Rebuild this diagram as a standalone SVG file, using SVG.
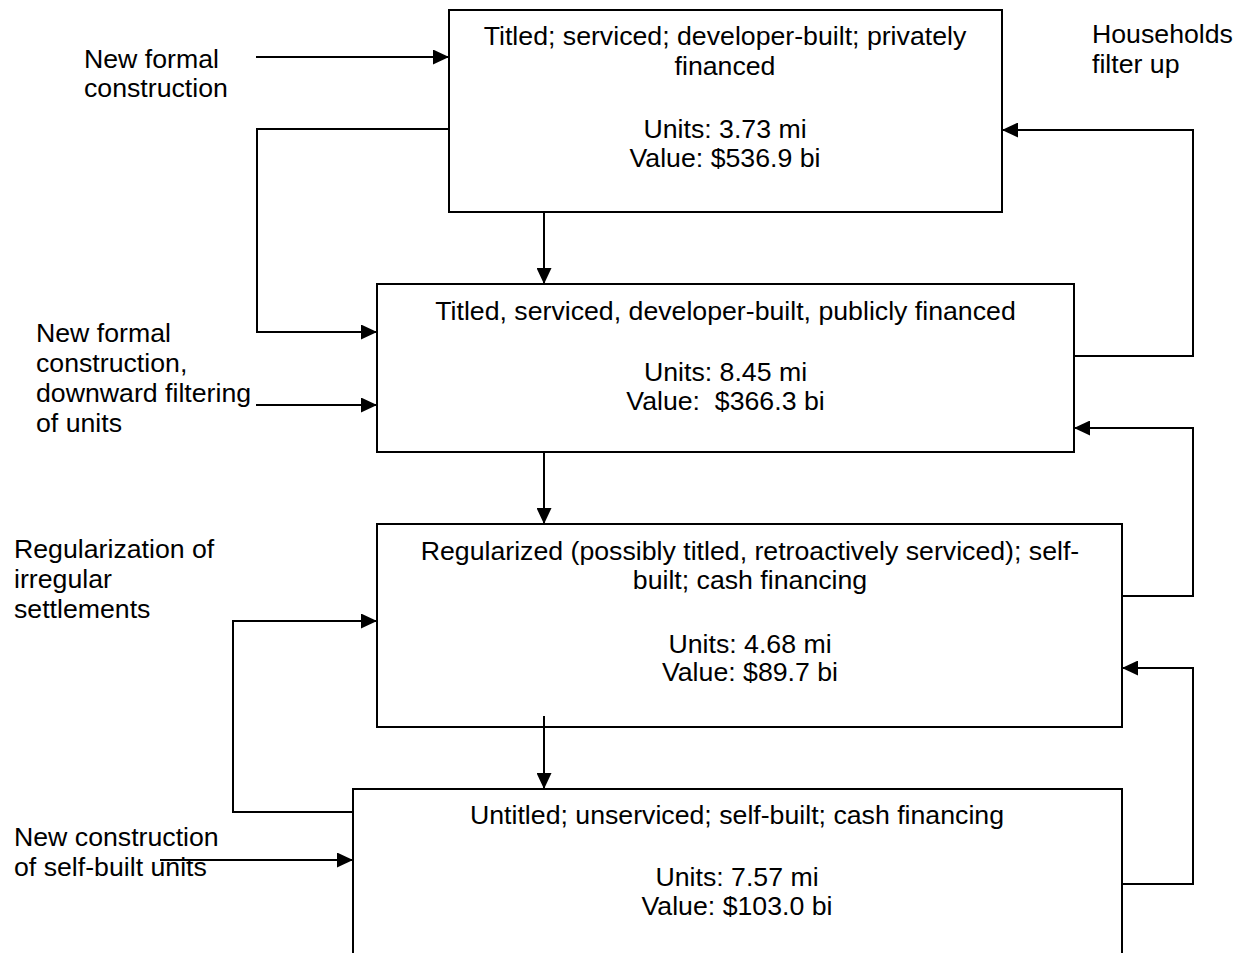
<svg xmlns="http://www.w3.org/2000/svg" width="1237" height="953" viewBox="0 0 1237 953">
<style>
  text { font-family: "Liberation Sans", Arial, sans-serif; font-size: 26.7px; fill: #000; }
  .c { text-anchor: middle; }
  .box { fill: #fff; stroke: #000; stroke-width: 2; }
  .ln { fill: none; stroke: #000; stroke-width: 2; }
</style>
<defs>
  <marker id="ah" viewBox="0 0 16 15" refX="16" refY="7.5" markerWidth="16" markerHeight="15" markerUnits="userSpaceOnUse" orient="auto">
    <path d="M0,0 L16,7.5 L0,15 Z" fill="#000"/>
  </marker>
</defs>
<rect width="1237" height="953" fill="#fff"/>

<g id="node-private">
  <rect class="box" x="449" y="10" width="553" height="202"/>
  <text class="c" x="725" y="45">Titled; serviced; developer-built; privately</text>
  <text class="c" x="725" y="75">financed</text>
  <text class="c" x="725" y="138">Units: 3.73 mi</text>
  <text class="c" x="725" y="167">Value: $536.9 bi</text>
</g>

<g id="node-public">
  <rect class="box" x="377" y="284" width="697" height="168"/>
  <text class="c" x="725.5" y="320">Titled, serviced, developer-built, publicly financed</text>
  <text class="c" x="725.5" y="381">Units: 8.45 mi</text>
  <text class="c" x="725.5" y="410" xml:space="preserve">Value:  $366.3 bi</text>
</g>

<g id="node-regularized">
  <rect class="box" x="377" y="524" width="745" height="203"/>
  <text class="c" x="750" y="560">Regularized (possibly titled, retroactively serviced); self-</text>
  <text class="c" x="750" y="589">built; cash financing</text>
  <text class="c" x="750" y="653">Units: 4.68 mi</text>
  <text class="c" x="750" y="681">Value: $89.7 bi</text>
</g>

<g id="node-untitled">
  <rect class="box" x="353" y="789" width="769" height="200"/>
  <text class="c" x="737" y="824">Untitled; unserviced; self-built; cash financing</text>
  <text class="c" x="737" y="886">Units: 7.57 mi</text>
  <text class="c" x="737" y="915">Value: $103.0 bi</text>
</g>

<g id="label-new-formal">
  <text x="84" y="68">New formal</text>
  <text x="84" y="97">construction</text>
</g>
<g id="label-downward">
  <text x="36" y="342">New formal</text>
  <text x="36" y="372">construction,</text>
  <text x="36" y="402">downward filtering</text>
  <text x="36" y="432">of units</text>
</g>
<g id="label-households">
  <text x="1092" y="43">Households</text>
  <text x="1092" y="73">filter up</text>
</g>
<g id="label-regularization">
  <text x="14" y="558">Regularization of</text>
  <text x="14" y="588">irregular</text>
  <text x="14" y="618">settlements</text>
</g>
<g id="label-self-built">
  <text x="14" y="846">New construction</text>
  <text x="14" y="876">of self-built units</text>
</g>

<g id="connectors">
  <path class="ln" d="M256,57 H449" marker-end="url(#ah)"/>
  <path class="ln" d="M449,129 H257 V332 H377" marker-end="url(#ah)"/>
  <path class="ln" d="M256,405 H377" marker-end="url(#ah)"/>
  <path class="ln" d="M544,212 V284" marker-end="url(#ah)"/>
  <path class="ln" d="M544,452 V524" marker-end="url(#ah)"/>
  <path class="ln" d="M544,716 V789" marker-end="url(#ah)"/>
  <path class="ln" d="M353,812 H233 V621 H377" marker-end="url(#ah)"/>
  <path class="ln" d="M160,860 H353" marker-end="url(#ah)"/>
  <path class="ln" d="M1074,356 H1193 V130 H1002" marker-end="url(#ah)"/>
  <path class="ln" d="M1122,596 H1193 V428 H1074" marker-end="url(#ah)"/>
  <path class="ln" d="M1122,884 H1193 V668 H1122" marker-end="url(#ah)"/>
</g>
</svg>
